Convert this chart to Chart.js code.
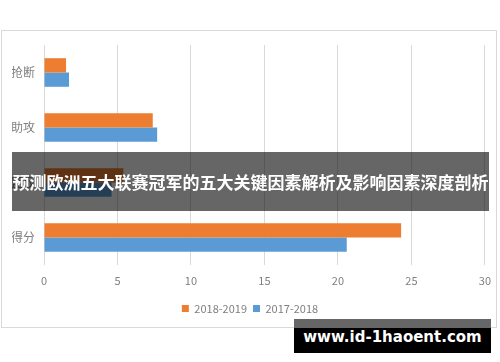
<!DOCTYPE html>
<html>
<head>
<meta charset="utf-8">
<script src="https://cdn.jsdelivr.net/npm/chart.js@4"></script>
<style>
  body { margin: 0; background: #fff; }
  #wrap { position: absolute; left: 0; top: 0; width: 500px; height: 362px; }
  #frame { position: absolute; left: 1px; top: 30px; width: 494px; height: 296px; border: 1px solid #d9d9d9; }
  #banner { position: absolute; left: 12px; top: 152px; width: 477px; height: 59px; background: rgba(0,0,0,0.6);
    color: #fff; font: bold 17px "Noto Sans CJK SC"; line-height: 59px; text-align: center; white-space: nowrap; }
  #mark { position: absolute; left: 294px; top: 319px; width: 197px; height: 34px;
    background: linear-gradient(#666 0, #666 9px, #000 9px); color: #fff;
    font: bold 15px "DejaVu Sans"; line-height: 36px; text-align: center; }
</style>
</head>
<body>
<div id="frame"></div>
<div id="wrap"><canvas id="chart" width="500" height="362"></canvas></div>
<div id="banner">预测欧洲五大联赛冠军的五大关键因素解析及影响因素深度剖析</div>
<div id="mark">www.id-1haoent.com</div>
<script>
  const categories = ['抢断', '助攻', '篮板', '得分'];
  const season1819 = [1.5, 7.4, 5.4, 24.3];
  const season1718 = [1.7, 7.7, 4.6, 20.6];
  const xTicks = [0, 5, 10, 15, 20, 25, 30];

  chartIt();
  function chartIt() {
    const ctx = document.getElementById('chart').getContext('2d');
    Chart.defaults.font.family = '"Noto Sans CJK SC"';
    Chart.defaults.color = '#7f7f7f';

    const myChart = new Chart(ctx, {
      type: 'bar',
      data: {
        labels: categories,
        datasets: [{
          label: '2018-2019',
          data: season1819,
          backgroundColor: '#ED7D31',
          categoryPercentage: 0.52,
          barPercentage: 1.0
        }, {
          label: '2017-2018',
          data: season1718,
          backgroundColor: '#5B9BD5',
          categoryPercentage: 0.52,
          barPercentage: 1.0
        }]
      },
      options: {
        indexAxis: 'y',
        responsive: false,
        animation: false,
        layout: { padding: { left: 12, right: 12, top: 45, bottom: 38 } },
        scales: {
          x: {
            min: xTicks[0],
            max: xTicks[xTicks.length - 1],
            afterBuildTicks: s => { s.ticks = xTicks.map(v => ({ value: v })); },
            grid: { color: '#d9d9d9', drawTicks: false },
            border: { display: false },
            ticks: { padding: 9, font: { size: 11 } },
            afterFit: s => { s.height = 32; }
          },
          y: {
            grid: { display: false, drawTicks: false },
            border: { display: false },
            ticks: { padding: 9, font: { size: 12 } },
            afterFit: s => { s.width = 32; }
          }
        },
        plugins: {
          legend: {
            position: 'bottom',
            labels: { boxWidth: 7, boxHeight: 7, padding: 6, font: { size: 11 } }
          },
          tooltip: { enabled: false }
        }
      }
    });
  }
</script>
</body>
</html>
